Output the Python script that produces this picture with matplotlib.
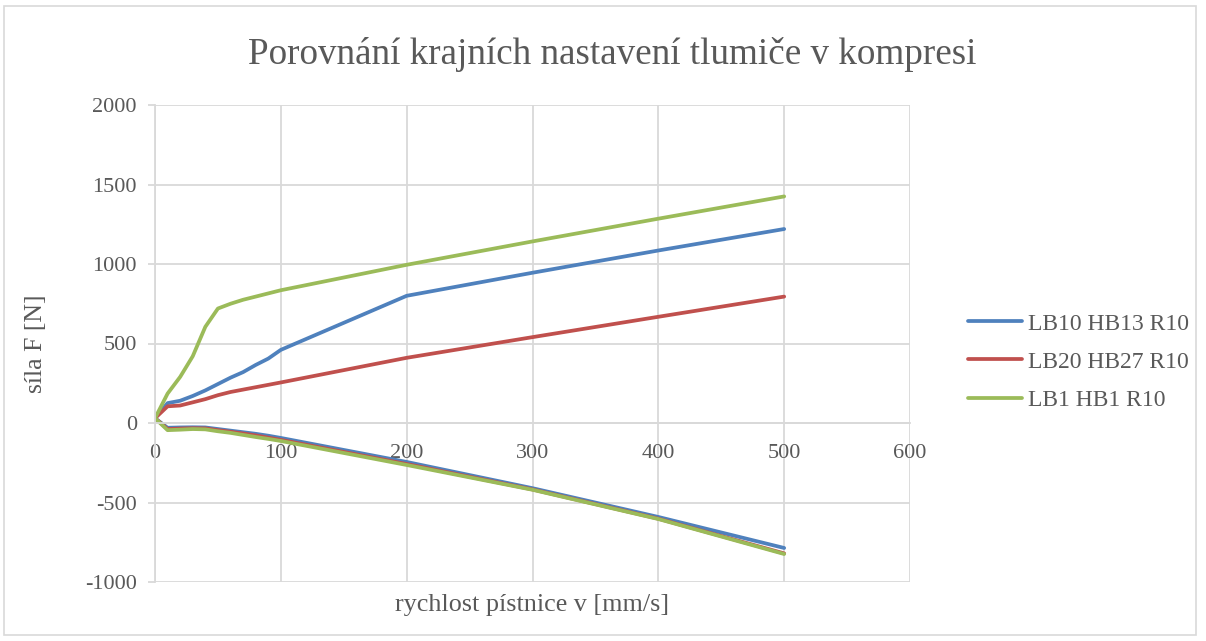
import matplotlib
matplotlib.use("Agg")
import matplotlib.pyplot as plt
from matplotlib.patches import Rectangle

# ---- data ----
velocity = [0, 10, 20, 30, 40, 50, 60, 70, 80, 90, 100, 200, 300, 400, 500]

blue_comp = [30, 125, 140, 170, 205, 245, 285, 320, 365, 405, 460, 800, 945, 1085, 1220]
blue_reb = [30, -30, -28, -27, -28, -38, -48, -58, -68, -80, -94, -245, -410, -591, -786]

red_comp = [30, 105, 110, 130, 150, 175, 195, 210, 225, 240, 255, 410, 540, 668, 795]
red_reb = [30, -38, -35, -33, -34, -45, -55, -66, -78, -92, -106, -258, -418, -602, -820]

green_comp = [30, 185, 290, 420, 605, 720, 750, 775, 795, 815, 835, 995, 1142, 1285, 1425]
green_reb = [30, -45, -42, -38, -40, -52, -62, -75, -88, -100, -113, -264, -420, -604, -824]

series_names = ["LB10 HB13 R10", "LB20 HB27 R10", "LB1 HB1 R10"]
series_comp = [blue_comp, red_comp, green_comp]
series_reb = [blue_reb, red_reb, green_reb]
colors = ["#4f81bd", "#c0504d", "#9bbb59"]

x_ticks = [0, 100, 200, 300, 400, 500, 600]
y_ticks = [-1000, -500, 0, 500, 1000, 1500, 2000]

title = "Porovnání krajních nastavení tlumiče v kompresi"
xlabel = "rychlost pístnice v [mm/s]"
ylabel = "síla F [N]"

# ---- figure ----
plt.rcParams['font.family'] = ['Liberation Serif', 'DejaVu Serif']
plt.rcParams['axes.unicode_minus'] = False
W, H = 1206, 641
fig = plt.figure(figsize=(W / 100, H / 100), dpi=100)
fig.patches.append(Rectangle((4 / W, 6 / H), 1192 / W, 629 / H, transform=fig.transFigure,
                             fill=False, edgecolor="#d9d9d9", linewidth=1.2))

left, right, top, bottom = 155, 910, 105, 582
ax = fig.add_axes([left / W, 1 - bottom / H, (right - left) / W, (bottom - top) / H])

for name, comp, reb, c in zip(series_names, series_comp, series_reb, colors):
    xs = velocity[::-1] + velocity[1:]
    ys = reb[::-1] + comp[1:]
    ax.plot(xs, ys, color=c, linewidth=2.7, label=name, solid_joinstyle='round', solid_capstyle='round')

ax.set_xlim(0, 600)
ax.set_ylim(-1000, 2000)
ax.set_xticks(x_ticks)
ax.set_yticks(y_ticks)
ax.grid(True, color="#d9d9d9", linewidth=1.3)
ax.set_axisbelow(True)

for s in ["top", "right"]:
    ax.spines[s].set_visible(False)
ax.spines["bottom"].set_position(("data", 0))
ax.spines["bottom"].set_color("#d9d9d9")
ax.spines["left"].set_color("#d9d9d9")
ax.spines["bottom"].set_linewidth(1.3)
ax.spines["left"].set_linewidth(1.3)

ax.tick_params(axis="x", length=0, labelsize=16, labelcolor="#595959", pad=15)
ax.tick_params(axis="y", length=5, width=1.3, color="#d9d9d9", labelsize=16, labelcolor="#595959", pad=8)

fig.text(0.5 * (left + right) / W, 1 - 605 / H, xlabel, ha="center", va="center", fontsize=18.8, color="#595959")
fig.text(36 / W, 1 - 344 / H, ylabel, ha="center", va="center", rotation=90, fontsize=18.5, color="#595959")
fig.text(612 / W, 1 - 54 / H, title, ha="center", va="center", fontsize=26.7, color="#595959")

leg = fig.legend(loc="center left", bbox_to_anchor=(961 / W, 1 - 362 / H), frameon=False,
                 fontsize=17, labelcolor="#595959", handlelength=2.3, handletextpad=0.25,
                 labelspacing=0.7, borderaxespad=0, borderpad=0.3)

fig.savefig("out.png", dpi=100)
